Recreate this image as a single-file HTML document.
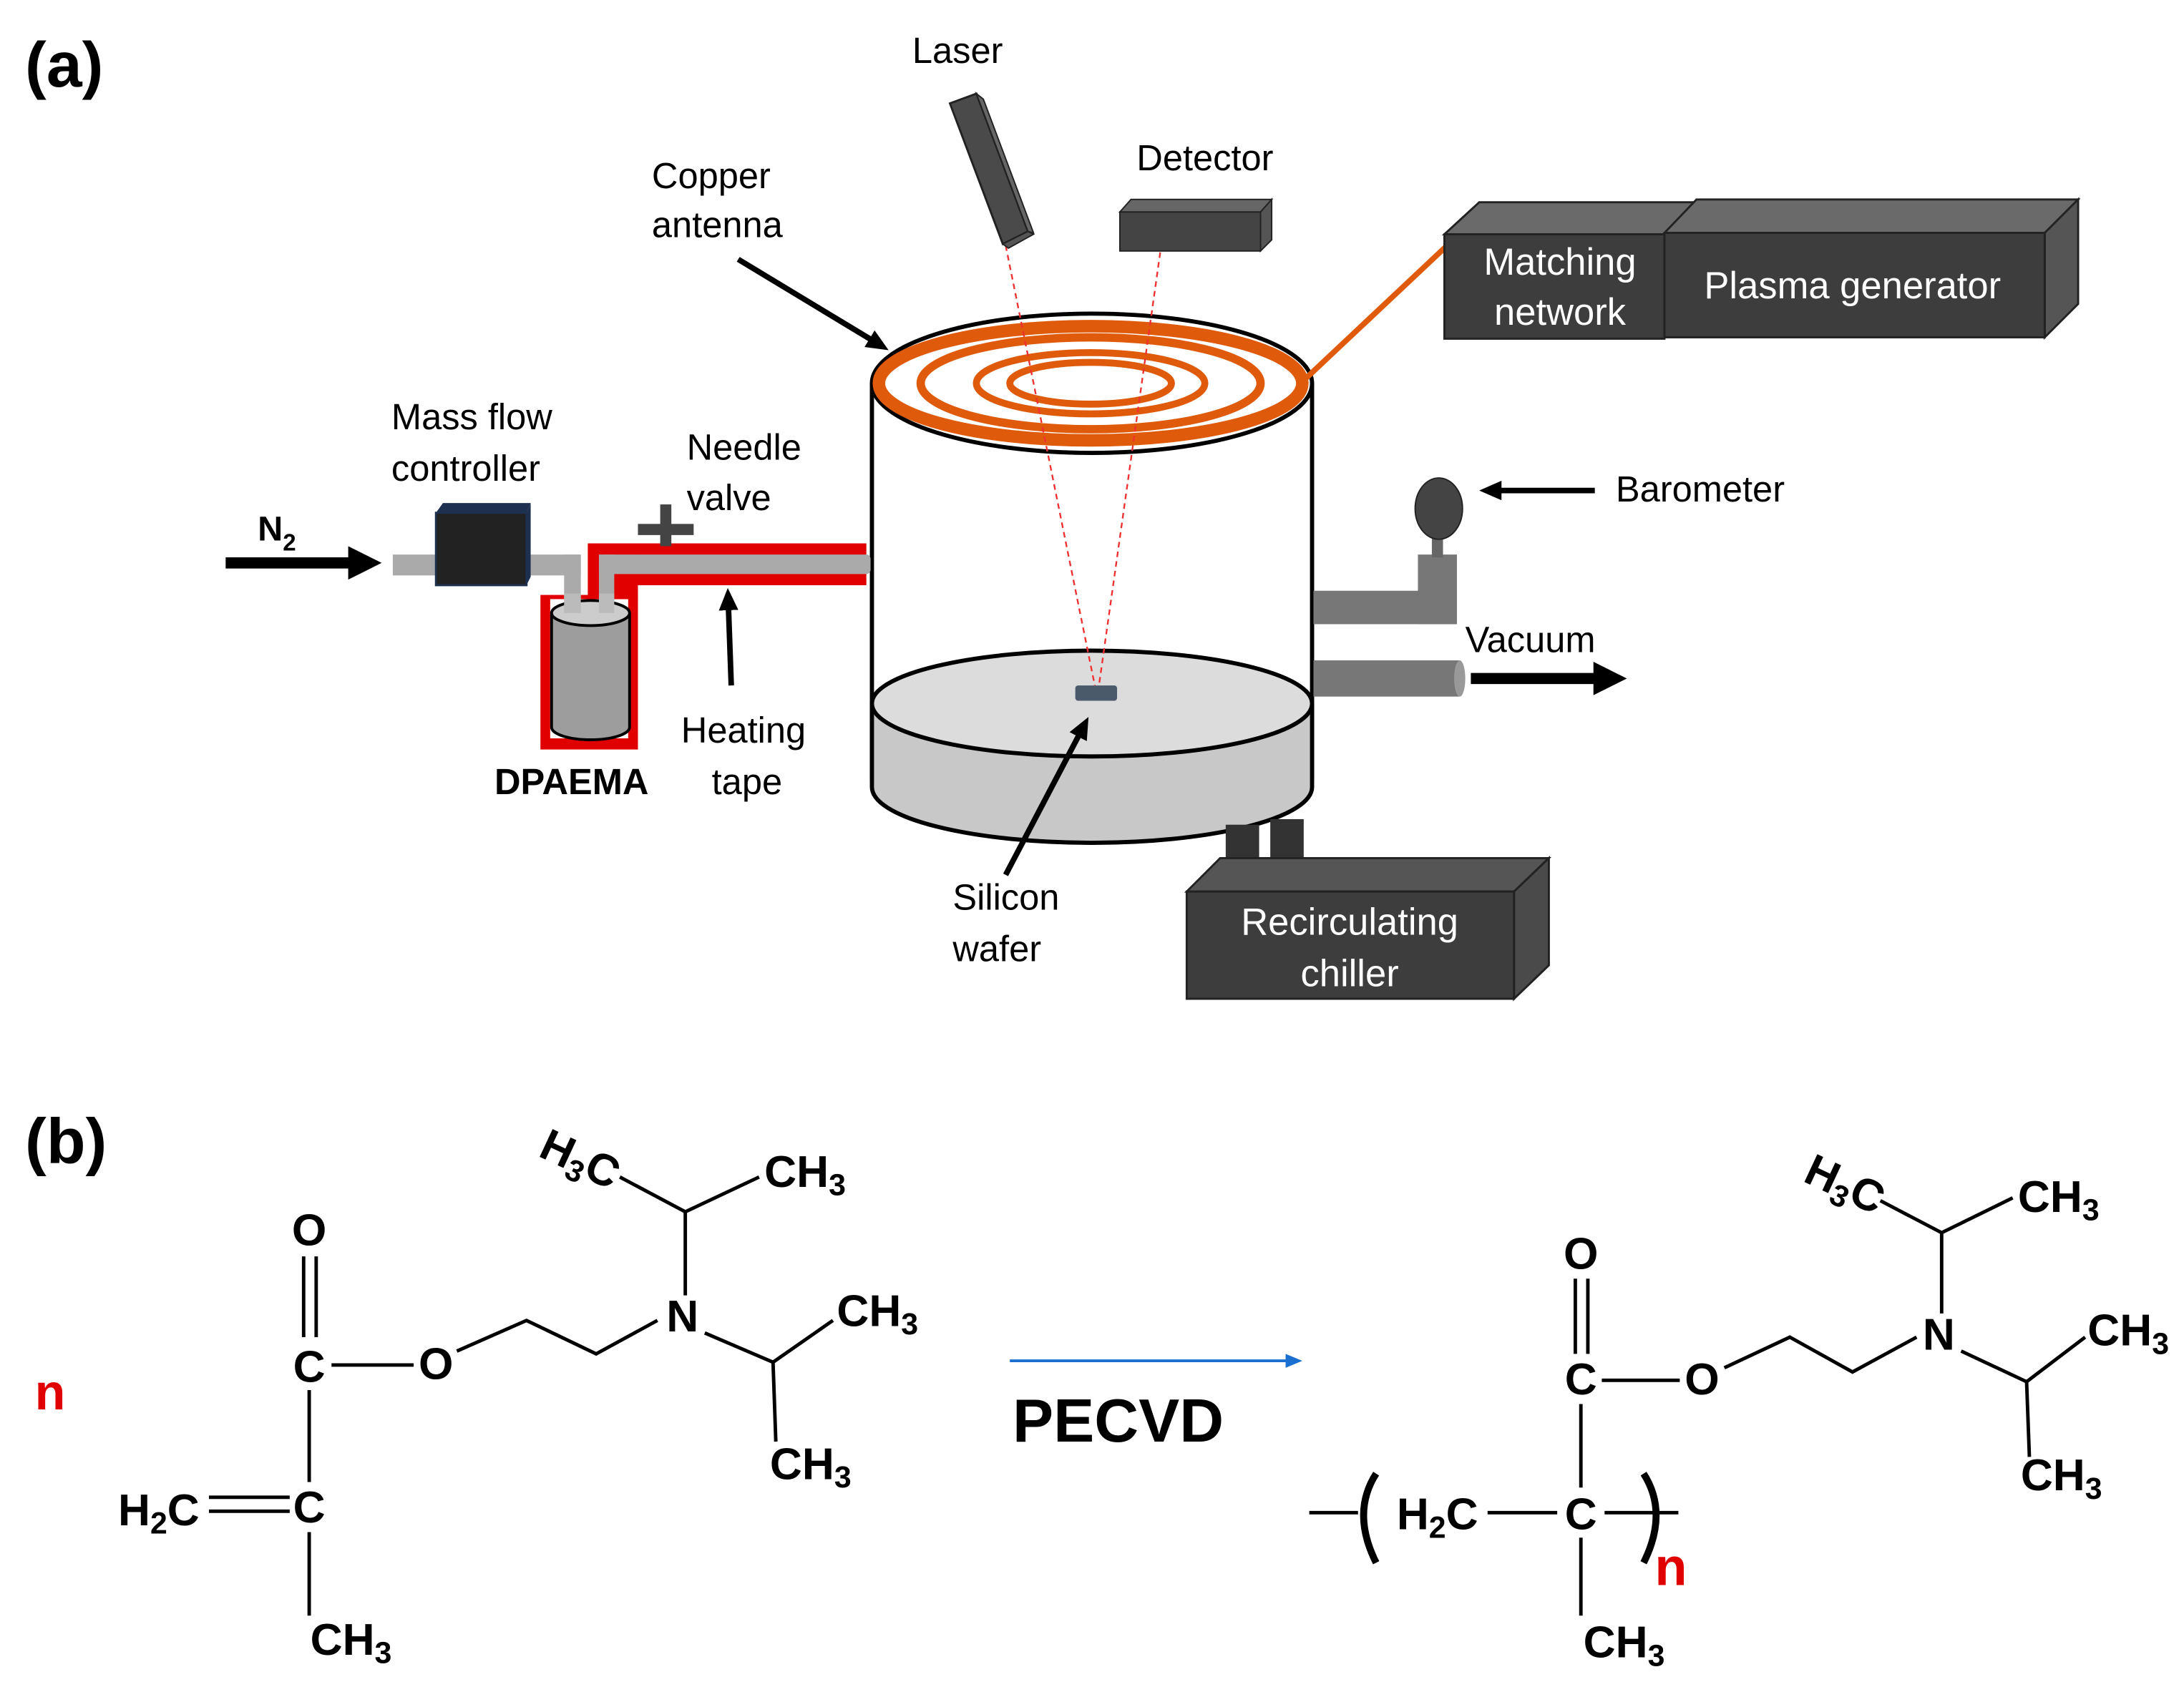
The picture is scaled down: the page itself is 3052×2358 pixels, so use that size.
<!DOCTYPE html>
<html><head><style>html,body{margin:0;padding:0;background:#fff}svg{display:block}text{font-family:"Liberation Sans",Arial,sans-serif}</style></head>
<body>
<svg width="3052" height="2358" viewBox="0 0 1568 1211" xmlns="http://www.w3.org/2000/svg">
<defs>
<marker id="ah" markerWidth="16" markerHeight="14" refX="2" refY="7" orient="auto" markerUnits="userSpaceOnUse"><path d="M0,0 L16,7 L0,14 z" fill="#000"/></marker>
<marker id="big" markerWidth="24" markerHeight="24" refX="2" refY="12" orient="auto" markerUnits="userSpaceOnUse"><path d="M0,0 L24,12 L0,24 z" fill="#000"/></marker>
<marker id="bh" markerWidth="12" markerHeight="10" refX="2" refY="5" orient="auto" markerUnits="userSpaceOnUse"><path d="M0,0 L12,5 L0,10 z" fill="#1a6fd0"/></marker>
</defs>
<text x="18" y="62" font-size="46" font-weight="bold">(a)</text>
<text x="18" y="835" font-size="46" font-weight="bold">(b)</text>

<!-- cylinder -->
<rect x="626" y="275" width="316" height="290" fill="#fff"/>
<line x1="626" y1="275" x2="626" y2="560" stroke="#000" stroke-width="3"/>
<line x1="942" y1="275" x2="942" y2="560" stroke="#000" stroke-width="3"/>
<path d="M626,505 L626,565 A158,40 0 0 0 942,565 L942,505 Z" fill="#c8c8c8" stroke="#000" stroke-width="3"/>
<ellipse cx="784" cy="505" rx="158" ry="38" fill="#dcdcdc" stroke="#000" stroke-width="3"/>
<rect x="772" y="492" width="30" height="11" rx="2" fill="#4a5a6a"/>
<ellipse cx="784" cy="275" rx="158" ry="50" fill="#fff" stroke="#000" stroke-width="3"/>
<g fill="none" stroke="#e05a0c">
<ellipse cx="783" cy="275" rx="152" ry="41" stroke-width="9"/>
<ellipse cx="783" cy="275" rx="122" ry="33" stroke-width="6"/>
<ellipse cx="783" cy="275" rx="82" ry="22" stroke-width="5"/>
<ellipse cx="783" cy="275" rx="58" ry="15" stroke-width="5"/>
</g>
<line x1="937" y1="272" x2="1038" y2="177" stroke="#e05a0c" stroke-width="4"/>
<line x1="722" y1="176" x2="786" y2="492" stroke="#f03030" stroke-width="1.2" stroke-dasharray="4,3"/>
<line x1="833" y1="181" x2="789" y2="492" stroke="#f03030" stroke-width="1.2" stroke-dasharray="4,3"/>
<!-- laser -->
<polygon points="682,74 701,67 738,166 720,175" fill="#4a4a4a" stroke="#222" stroke-width="1.5"/>
<polygon points="701,67 706,71 742,167 738,166" fill="#666" stroke="#222" stroke-width="1"/>
<polygon points="720,175 738,166 742,168 724,178" fill="#555" stroke="#222" stroke-width="1"/>
<!-- detector -->
<polygon points="804,152 812,143 913,143 905,152" fill="#666" stroke="#222"/>
<polygon points="905,152 913,143 913,172 905,180" fill="#555" stroke="#222"/>
<rect x="804" y="152" width="101" height="28" fill="#444" stroke="#222"/>
<!-- matching/plasma -->
<polygon points="1037,168 1062,145 1218,145 1195,168" fill="#6a6a6a" stroke="#222" stroke-width="1.5"/>
<polygon points="1195,167 1218,143 1492,143 1468,167" fill="#6a6a6a" stroke="#222" stroke-width="1.5"/>
<polygon points="1468,167 1492,143 1492,218 1468,242" fill="#555" stroke="#222" stroke-width="1.5"/>
<rect x="1037" y="168" width="158" height="75" fill="#3d3d3d" stroke="#222" stroke-width="1.5"/>
<rect x="1195" y="167" width="273" height="75" fill="#3d3d3d" stroke="#222" stroke-width="1.5"/>
<text x="1120" y="197" font-size="27" fill="#fff" text-anchor="middle">Matching</text>
<text x="1120" y="233" font-size="27" fill="#fff" text-anchor="middle">network</text>
<text x="1330" y="214" font-size="27" fill="#fff" text-anchor="middle">Plasma generator</text>
<!-- chiller -->
<rect x="880" y="592" width="24" height="42" fill="#333"/>
<rect x="912" y="588" width="24" height="40" fill="#333"/>
<polygon points="852,640 876,616 1112,616 1087,640" fill="#555" stroke="#222" stroke-width="1.5"/>
<polygon points="1087,640 1112,616 1112,693 1087,717" fill="#4a4a4a" stroke="#222" stroke-width="1.5"/>
<rect x="852" y="640" width="235" height="77" fill="#3d3d3d" stroke="#222" stroke-width="1.5"/>
<text x="969" y="671" font-size="27" fill="#fff" text-anchor="middle">Recirculating</text>
<text x="969" y="708" font-size="27" fill="#fff" text-anchor="middle">chiller</text>
<!-- barometer & vacuum -->
<rect x="943" y="424" width="103" height="24" fill="#777"/>
<rect x="1018" y="398" width="28" height="50" fill="#777"/>
<rect x="1028" y="385" width="8" height="15" fill="#666"/>
<ellipse cx="1033" cy="365" rx="17" ry="22" fill="#444" stroke="#222"/>
<rect x="943" y="474" width="105" height="26" fill="#777"/>
<ellipse cx="1048" cy="487" rx="4" ry="13" fill="#999"/>
<line x1="1145" y1="352" x2="1076" y2="352" stroke="#000" stroke-width="4" marker-end="url(#ah)"/>
<line x1="1056" y1="487" x2="1146" y2="487" stroke="#000" stroke-width="8" marker-end="url(#big)"/>
<text x="1160" y="360" font-size="26">Barometer</text>
<text x="1052" y="468" font-size="26">Vacuum</text>
<!-- left side -->
<line x1="162" y1="404" x2="252" y2="404" stroke="#000" stroke-width="8" marker-end="url(#big)"/>
<text x="185" y="388" font-size="25" font-weight="bold">N<tspan font-size="17" dy="7">2</tspan></text>
<rect x="388" y="427" width="70" height="111" fill="#e00000"/>
<rect x="395" y="430" width="56" height="100" fill="#fff"/>
<path d="M422,390 L622,390 L622,420 L458,420 L458,430 L422,430 Z" fill="#e00000"/>
<rect x="282" y="398" width="135" height="15" fill="#aaa"/>
<rect x="405" y="398" width="12" height="36" fill="#aaa"/>
<rect x="430" y="398" width="195" height="14" rx="3" fill="#aaa"/>
<rect x="430" y="398" width="11" height="36" fill="#aaa"/>
<path d="M396,440 L396,522 A28,9 0 0 0 452,522 L452,440 Z" fill="#9d9d9d" stroke="#000" stroke-width="2"/>
<ellipse cx="424" cy="440" rx="28" ry="9" fill="#ccc" stroke="#000" stroke-width="2"/>
<rect x="405" y="426" width="12" height="14" fill="#bbb"/>
<rect x="430" y="426" width="11" height="14" fill="#bbb"/>
<polygon points="313,368 318,361 381,361 378,368" fill="#1e3050"/>
<polygon points="378,368 381,361 381,414 378,420" fill="#1e3050"/>
<rect x="313" y="368" width="65" height="52" fill="#222" stroke="#1e3050" stroke-width="1.5"/>
<rect x="458" y="376" width="40" height="8" fill="#444"/>
<rect x="474" y="362" width="8" height="30" fill="#444"/>
<line x1="525" y1="492" x2="523" y2="436" stroke="#000" stroke-width="4" marker-end="url(#ah)"/>
<line x1="530" y1="186" x2="626" y2="244" stroke="#000" stroke-width="4" marker-end="url(#ah)"/>
<line x1="722" y1="628" x2="775" y2="527" stroke="#000" stroke-width="4" marker-end="url(#ah)"/>
<g font-size="26">
<text x="655" y="45">Laser</text>
<text x="816" y="122">Detector</text>
<text x="468" y="135">Copper</text>
<text x="468" y="170">antenna</text>
<text x="281" y="308">Mass flow</text>
<text x="281" y="345">controller</text>
<text x="493" y="330">Needle</text>
<text x="493" y="366">valve</text>
<text x="489" y="533">Heating</text>
<text x="511" y="570">tape</text>
<text x="684" y="653">Silicon</text>
<text x="684" y="690">wafer</text>
</g>
<text x="355" y="570" font-size="26" font-weight="bold">DPAEMA</text>

<!-- (b) chemistry -->
<g font-size="32" font-weight="bold" text-anchor="middle">
<text x="222" y="894">O</text>
<text x="222" y="992">C</text>
<text x="313" y="990">O</text>
<text x="490" y="956">N</text>
<text x="222" y="1093">C</text>
<text x="412" y="842" transform="rotate(25 412 842)">H<tspan font-size="22" dy="6">3</tspan><tspan dy="-6">C</tspan></text>
<text x="578" y="852">CH<tspan font-size="22" dy="6">3</tspan></text>
<text x="630" y="952">CH<tspan font-size="22" dy="6">3</tspan></text>
<text x="582" y="1062">CH<tspan font-size="22" dy="6">3</tspan></text>
<text x="114" y="1095">H<tspan font-size="22" dy="6">2</tspan><tspan dy="-6">C</tspan></text>
<text x="252" y="1188">CH<tspan font-size="22" dy="6">3</tspan></text>
</g>
<g stroke="#000" stroke-width="2.5" fill="none">
<line x1="218" y1="902" x2="218" y2="960"/><line x1="227" y1="902" x2="227" y2="960"/>
<line x1="238" y1="980" x2="297" y2="980"/>
<polyline points="328,970 378,948 428,972 472,948"/>
<line x1="492" y1="930" x2="492" y2="870"/>
<polyline points="445,845 492,870 545,845"/>
<polyline points="506,957 555,978 598,948"/><line x1="555" y1="978" x2="557" y2="1035"/>
<line x1="222" y1="998" x2="222" y2="1064"/>
<line x1="150" y1="1075" x2="208" y2="1075"/><line x1="150" y1="1085" x2="208" y2="1085"/>
<line x1="222" y1="1100" x2="222" y2="1160"/>
</g>
<text x="25" y="1012" font-size="36" font-weight="bold" fill="#e00000">n</text>
<line x1="725" y1="977" x2="925" y2="977" stroke="#1a6fd0" stroke-width="2" marker-end="url(#bh)"/>
<text x="727" y="1035" font-size="44" font-weight="bold">PECVD</text>

<g font-size="32" font-weight="bold" text-anchor="middle">
<text x="1135" y="911">O</text>
<text x="1135" y="1001">C</text>
<text x="1222" y="1001">O</text>
<text x="1392" y="969">N</text>
<text x="1135" y="1098">C</text>
<text x="1320" y="860" transform="rotate(25 1320 860)">H<tspan font-size="22" dy="6">3</tspan><tspan dy="-6">C</tspan></text>
<text x="1478" y="870">CH<tspan font-size="22" dy="6">3</tspan></text>
<text x="1528" y="966">CH<tspan font-size="22" dy="6">3</tspan></text>
<text x="1480" y="1070">CH<tspan font-size="22" dy="6">3</tspan></text>
<text x="1032" y="1098">H<tspan font-size="22" dy="6">2</tspan><tspan dy="-6">C</tspan></text>
<text x="1166" y="1190">CH<tspan font-size="22" dy="6">3</tspan></text>
</g>
<g stroke="#000" stroke-width="2.5" fill="none">
<line x1="1131" y1="918" x2="1131" y2="972"/><line x1="1140" y1="918" x2="1140" y2="972"/>
<line x1="1150" y1="991" x2="1206" y2="991"/>
<polyline points="1238,982 1285,960 1330,985 1376,960"/>
<line x1="1394" y1="943" x2="1394" y2="885"/>
<polyline points="1350,862 1394,885 1445,860"/>
<polyline points="1408,970 1455,992 1497,960"/><line x1="1455" y1="992" x2="1457" y2="1046"/>
<line x1="1135" y1="1008" x2="1135" y2="1068"/>
<line x1="940" y1="1086" x2="975" y2="1086"/>
<line x1="1068" y1="1086" x2="1118" y2="1086"/>
<line x1="1152" y1="1086" x2="1205" y2="1086"/>
<line x1="1135" y1="1104" x2="1135" y2="1160"/>
<path d="M988,1058 Q970,1086 988,1122" stroke-width="5"/>
<path d="M1180,1058 Q1198,1086 1180,1122" stroke-width="5"/>
</g>
<text x="1188" y="1138" font-size="38" font-weight="bold" fill="#e00000">n</text>
</svg>
</body></html>
